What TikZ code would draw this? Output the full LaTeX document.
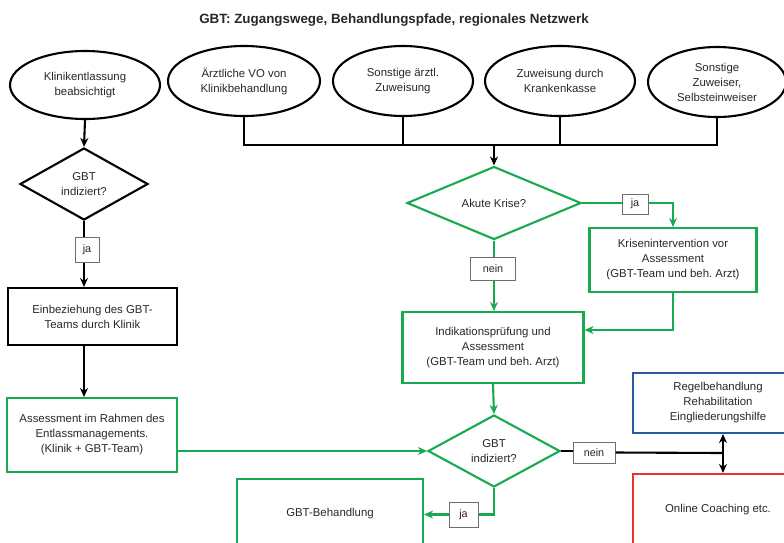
\documentclass[tikz,border=0pt]{standalone}
\usepackage{fontspec}
\setmainfont{Liberation Sans}
\usetikzlibrary{shapes.geometric,arrows.meta}
\definecolor{gbtgreen}{RGB}{24,170,80}
\definecolor{gbtblue}{RGB}{40,90,160}
\definecolor{gbtred}{RGB}{232,52,40}
\definecolor{txtgray}{RGB}{40,40,40}
\definecolor{labgray}{RGB}{110,110,110}
\tikzset{
  basetxt/.style={text=txtgray, font=\fontsize{11.4}{15}\selectfont, align=center, inner sep=0pt},
  ell/.style={basetxt, ellipse, draw=black, line width=2.1pt},
  dia/.style={basetxt, diamond, line width=2.1pt},
  box/.style={basetxt, rectangle, line width=2.1pt},
  lab/.style={basetxt, rectangle, draw=labgray, line width=1pt, fill=white, font=\fontsize{10.8}{12}\selectfont},
  blk/.style={draw=black, line width=2.1pt},
  blkarr/.style={blk, -{Stealth[length=9pt,width=8pt]}},
  grn/.style={draw=gbtgreen, line width=2.1pt},
  grnarr/.style={grn, -{Stealth[length=9pt,width=8pt]}},
}
\begin{document}
\frenchspacing
\begin{tikzpicture}[x=1pt,y=-1pt]
\useasboundingbox[fill=white] (0,0) rectangle (784,542);

\node[basetxt, font=\bfseries\fontsize{13.4}{15}\selectfont] (title) at (394,20) {GBT: Zugangswege, Behandlungspfade, regionales Netzwerk};

% top ellipses
\node[ell, minimum width=150, minimum height=68] (e1) at (85,85) {Klinikentlassung\\beabsichtigt};
\node[ell, minimum width=152, minimum height=70] (e2) at (244,81) {Ärztliche VO von\\Klinikbehandlung};
\node[ell, minimum width=140, minimum height=70] (e3) at (403,81) {Sonstige ärztl.\\Zuweisung};
\node[ell, minimum width=150, minimum height=70] (e4) at (560,81) {Zuweisung durch\\Krankenkasse};
\node[ell, minimum width=138, minimum height=70] (e5) at (717,82) {Sonstige\\Zuweiser,\\Selbsteinweiser};

% bus
\coordinate (bus) at (494,145);
\draw[blk] (e2.south) -- (e2.south |- bus) -- (e5.south |- bus) -- (e5.south);
\draw[blk] (e3.south) -- (e3.south |- bus);
\draw[blk] (e4.south) -- (e4.south |- bus);

% left column
\node[dia, draw=black, minimum width=128, minimum height=72] (d1) at (84,184) {GBT\\indiziert?};
\node[lab, minimum width=24, minimum height=25] (ja1) at (87,250) {ja};
\node[box, draw=black, minimum width=169, minimum height=57] (einb) at (92.5,316.5) {Einbeziehung des GBT-\\Teams durch Klinik};
\node[box, draw=gbtgreen, minimum width=170, minimum height=74] (assess) at (92,435) {Assessment im Rahmen des\\Entlassmanagements.\\(Klinik + GBT-Team)};

\draw[blkarr] (e1.south) -- (d1.north);
\draw[blk] (d1.south) -- (ja1.north -| d1.south);
\draw[blkarr] (ja1.south -| d1.south) -- (einb.north -| d1.south);
\draw[blkarr] (einb.south -| d1.south) -- (assess.north -| d1.south);

% right column
\node[dia, draw=gbtgreen, minimum width=174, minimum height=64] (akute) at (494,203) {Akute Krise?};
\node[lab, minimum width=26, minimum height=20] (jak) at (635,204) {ja};
\node[box, draw=gbtgreen, minimum width=167, minimum height=64] (kris) at (673,260) {Krisenintervention vor\\Assessment\\(GBT-Team und beh. Arzt)};
\node[lab, minimum width=45, minimum height=23] (nein1) at (493,268.5) {nein};
\node[box, draw=gbtgreen, minimum width=181, minimum height=71] (indik) at (493,347.5) {Indikationsprüfung und\\Assessment\\(GBT-Team und beh. Arzt)};

\draw[blkarr] (bus) -- (akute.north);
\draw[grn] (akute.east) -- (jak.west |- akute.east);
\draw[grnarr] (jak.east |- akute.east) -| (kris.north);
\draw[grn] (akute.south) -- (nein1.north -| akute.south);
\draw[grnarr] (nein1.south -| akute.south) -- (indik.north -| akute.south);
\draw[grnarr] (kris.south) |- ([yshift=17.5pt]indik.east);

% lower decision
\node[dia, draw=gbtgreen, minimum width=132, minimum height=72] (d2) at (494,451) {GBT\\indiziert?};
\node[lab, minimum width=42, minimum height=21] (nein2) at (594,452.5) {nein};
\node[lab, minimum width=29, minimum height=25] (ja2) at (463.5,514.5) {ja};
\node[box, draw=gbtblue, minimum width=170, minimum height=60] (blue) at (718,403) {Regelbehandlung\\Rehabilitation\\Eingliederungshilfe};
\node[box, draw=gbtred, minimum width=170, minimum height=90, text height=8pt, text depth=22pt] (red) at (718,519) {Online Coaching etc.};
\node[box, draw=gbtgreen, minimum width=186, minimum height=80, text height=8pt, text depth=14pt] (gbtb) at (330,519) {GBT-Behandlung};

\draw[grnarr] (indik.south) -- (d2.north);
\draw[grnarr] (assess.east |- d2) -- (d2.west);
\draw[blk] (d2.east) -- (nein2.west |- d2.east);
\coordinate (split) at (723,453);
\draw[blk] (nein2.east) -- (split);
\draw[blk, {Stealth[length=9pt,width=8pt]}-{Stealth[length=9pt,width=8pt]}] (blue.south -| split) -- (red.north -| split);
\draw[grn] (d2.south) |- (ja2.east);
\draw[grnarr] (ja2.west) -- (gbtb.east |- ja2.west);
\end{tikzpicture}
\end{document}
